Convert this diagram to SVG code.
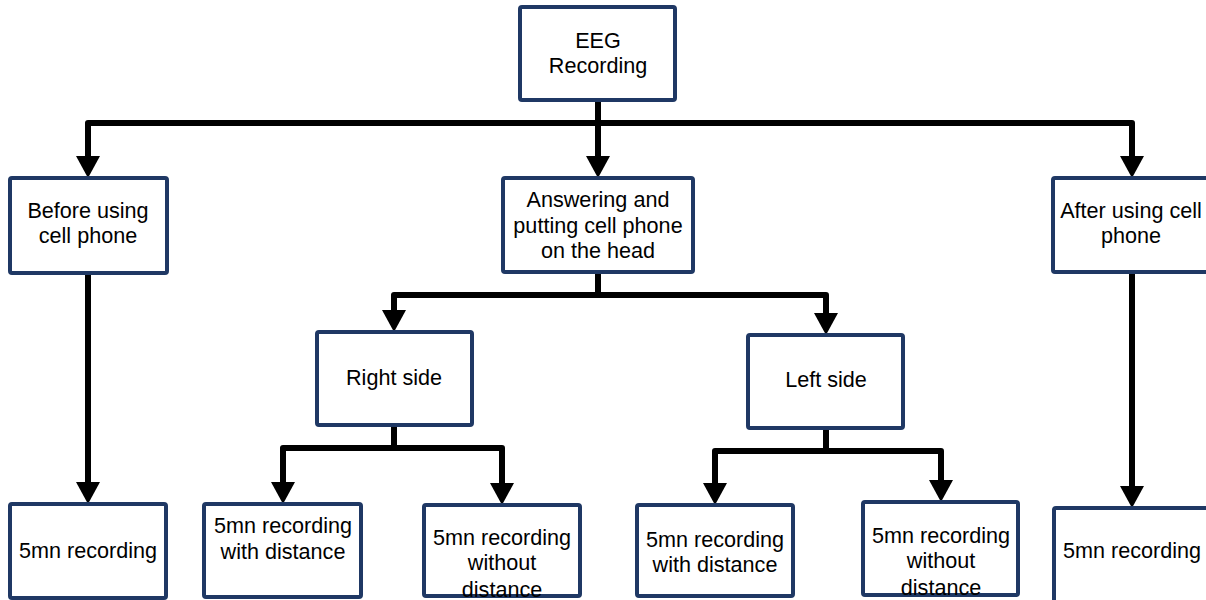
<svg xmlns="http://www.w3.org/2000/svg" width="1206" height="600" viewBox="0 0 1206 600">
<style>
.box{fill:#fff;stroke:#1F3864;stroke-width:4}
.t{font-family:"Liberation Sans",Arial,sans-serif;font-size:21.6px;fill:#000;text-anchor:middle}
.c{fill:none;stroke:#000;stroke-width:6;stroke-linejoin:round}
</style>
<defs>
<marker id="ah" viewBox="0 0 22 24" refX="1" refY="12" markerWidth="22" markerHeight="24" markerUnits="userSpaceOnUse" orient="auto">
<path d="M0,0 L22,12 L0,24 z" fill="#000"/>
</marker>
</defs>
<rect width="1206" height="600" fill="#fff"/>
<g id="connectors">
<path class="c" d="M598,100 V157" marker-end="url(#ah)"/>
<path class="c" d="M88,157 V123 H1132 V157" />
<path class="c" d="M88,123 V157" marker-end="url(#ah)"/>
<path class="c" d="M1132,123 V157" marker-end="url(#ah)"/>
<path class="c" d="M88,273 V483" marker-end="url(#ah)"/>
<path class="c" d="M1132,272 V487" marker-end="url(#ah)"/>
<path class="c" d="M598,272 V295"/>
<path class="c" d="M394,311 V295 H826 V314"/>
<path class="c" d="M394,295 V311" marker-end="url(#ah)"/>
<path class="c" d="M826,295 V314" marker-end="url(#ah)"/>
<path class="c" d="M394,425 V448"/>
<path class="c" d="M283,483 V448 H502 V484"/>
<path class="c" d="M283,448 V483" marker-end="url(#ah)"/>
<path class="c" d="M502,448 V484" marker-end="url(#ah)"/>
<path class="c" d="M826,428 V451"/>
<path class="c" d="M715,484 V451 H941 V481"/>
<path class="c" d="M715,451 V484" marker-end="url(#ah)"/>
<path class="c" d="M941,451 V481" marker-end="url(#ah)"/>
</g>
<g id="eeg"><rect class="box" x="520" y="7" width="155" height="93" rx="2"/><text class="t" x="598" y="48">EEG</text><text class="t" x="598" y="73">Recording</text></g>
<g id="before"><rect class="box" x="10" y="178" width="157" height="95" rx="2"/><text class="t" x="88" y="218">Before using</text><text class="t" x="88" y="243">cell phone</text></g>
<g id="answering"><rect class="box" x="503" y="178" width="190" height="94" rx="2"/><text class="t" x="598" y="207">Answering and</text><text class="t" x="598" y="233">putting cell phone</text><text class="t" x="598" y="258">on the head</text></g>
<g id="after"><rect class="box" x="1053" y="178" width="160" height="94" rx="2"/><text class="t" x="1131" y="218">After using cell</text><text class="t" x="1131" y="243">phone</text></g>
<g id="right"><rect class="box" x="317" y="332" width="155" height="93" rx="2"/><text class="t" x="394" y="385">Right side</text></g>
<g id="left"><rect class="box" x="748" y="335" width="155" height="93" rx="2"/><text class="t" x="826" y="387">Left side</text></g>
<g id="rec1"><rect class="box" x="10" y="504" width="156" height="94" rx="2"/><text class="t" x="88" y="558">5mn recording</text></g>
<g id="rwd"><rect class="box" x="204" y="504" width="157" height="93" rx="2"/><text class="t" x="283" y="533">5mn recording</text><text class="t" x="283" y="559">with distance</text></g>
<g id="rwod"><rect class="box" x="424" y="505" width="156" height="91" rx="2"/><text class="t" x="502" y="545">5mn recording</text><text class="t" x="502" y="570">without</text><text class="t" x="502" y="597">distance</text></g>
<g id="lwd"><rect class="box" x="637" y="505" width="156" height="91" rx="2"/><text class="t" x="715" y="547">5mn recording</text><text class="t" x="715" y="572">with distance</text></g>
<g id="lwod"><rect class="box" x="863" y="502" width="155" height="93" rx="2"/><text class="t" x="941" y="543">5mn recording</text><text class="t" x="941" y="568">without</text><text class="t" x="941" y="595">distance</text></g>
<g id="rec2"><rect class="box" x="1054" y="508" width="160" height="95" rx="2"/><text class="t" x="1132" y="558">5mn recording</text></g>
</svg>
